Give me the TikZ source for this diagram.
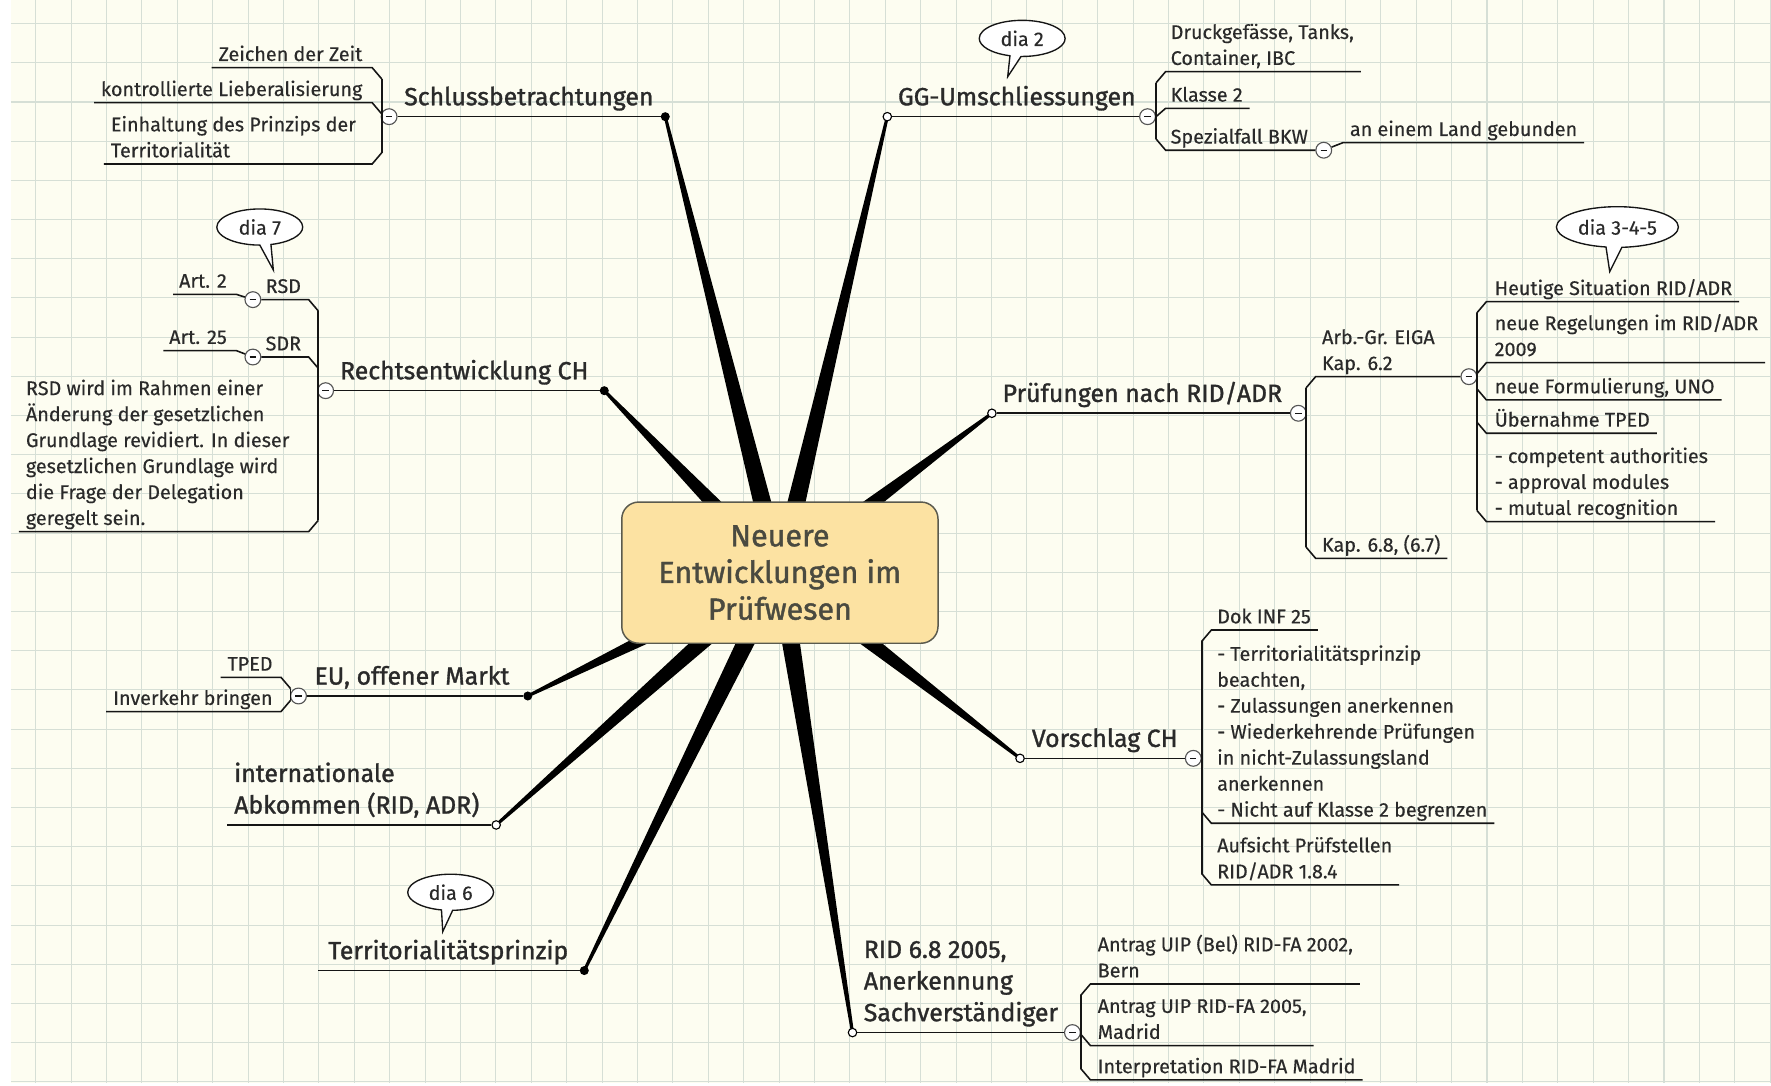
\documentclass[tikz,border=0pt]{standalone}
\usepackage{fontspec}
\setmainfont[FakeBold=0.35]{Fira Sans}
\newfontfamily\heavyfam[FakeBold=1.3]{Fira Sans}
\usetikzlibrary{calc,shapes.callouts}
\pgfdeclarelayer{bg}
\pgfdeclarelayer{spk}
\pgfsetlayers{bg,spk,main}
\definecolor{bgc}{HTML}{FDFDF1}
\definecolor{gridc}{HTML}{D6DFD6}
\definecolor{txtc}{HTML}{2A2A2A}
\definecolor{linec}{HTML}{151515}
\definecolor{boxfill}{HTML}{FCE2A2}
\definecolor{boxline}{HTML}{5A5A4E}
\definecolor{ctrtxt}{HTML}{4A4A40}
\definecolor{btnline}{HTML}{555555}
\newcommand{\fsub}{\fontsize{17.5}{23}\selectfont}
\newcommand{\fmain}{\heavyfam\fontsize{22}{28}\selectfont}
\newcommand{\fctr}{\heavyfam\fontsize{27}{32.5}\selectfont}
% right-side child: name, vertical x, underline y, join y, text x, text
\newcommand{\kidR}[6]{%
  \node[sub, anchor=south west] (#1) at (#5,#3) {#6};
  \coordinate (#1-j) at (#2,#4);
  \coordinate (#1-c) at ({#2+8.5},#3);
  \draw[uline] (#1-j) -- (#1-c) -- ($(#1.east |- #1-c)+(6,0)$);
}
% left-side child: name, vertical x, underline y, join y, anchor, text x, text
\newcommand{\kidL}[7]{%
  \node[sub, anchor=#5] (#1) at (#6,#3) {#7};
  \coordinate (#1-j) at (#2,#4);
  \coordinate (#1-c) at ({#2-8.5},#3);
  \draw[uline] (#1-j) -- (#1-c) -- ($(#1.west |- #1-c)+(-6,0)$);
}
\newcommand{\spoke}[1]{%
  \fill[black] ($(core)!9pt!90:(#1)$) -- ($(#1)!1.3pt!-90:(core)$) -- ($(#1)!1.3pt!90:(core)$) -- ($(core)!9pt!-90:(#1)$) -- cycle;}
\begin{document}
\begin{tikzpicture}[x=1pt,y=-1pt,
  sub/.style={font=\fsub, text=txtc, align=left, inner sep=0pt, execute at end node=\strut, yshift=-1.2pt},
  maint/.style={font=\fmain, text=txtc, align=left, inner sep=0pt, execute at end node=\strut, yshift=1.5pt},
  uline/.style={draw=linec, line width=1.4pt},
  btn/.style={circle, draw=btnline, fill=white, line width=1pt, minimum size=14pt, inner sep=0pt,
    path picture={\draw[linec, line width=1.2pt] ([xshift=-2.8pt]path picture bounding box.center) -- ([xshift=2.8pt]path picture bounding box.center);}},
  dotf/.style={circle, fill=black, minimum size=8pt, inner sep=0pt},
  doth/.style={circle, draw=black, fill=white, line width=1pt, minimum size=7.5pt, inner sep=0pt},
  bubble/.style={ellipse callout, draw=linec, fill=white, line width=1.2pt, inner sep=0pt,
    minimum width=76pt, minimum height=32pt, font=\fsub, text=txtc},
  core/.style={rectangle, rounded corners=15pt, draw=boxline, fill=boxfill, line width=1.3pt,
    minimum width=280pt, minimum height=125pt, align=center, font=\fctr, text=ctrtxt, inner sep=0pt}
]
\useasboundingbox (0,0) rectangle (1568,961);
\begin{pgfonlayer}{bg}
  \fill[white] (0,0) rectangle (1568,961);
  \fill[bgc] (9.7,0) rectangle (1568,959);
  \foreach \i in {0,...,49} \draw[gridc, line width=0.9pt] ({31.6+31.34*\i},0) -- ({31.6+31.34*\i},959);
  \foreach \j in {0,...,27} \draw[gridc, line width=0.9pt] (9.7,{20.9+34.7*\j}) -- (1568,{20.9+34.7*\j});
\end{pgfonlayer}

% central topic
\node[core] (core) at (690.5,507) {Neuere\\Entwicklungen im\\Prüfwesen};

% ---------- Schlussbetrachtungen
\node[dotf] (schD) at (589,103.3) {};
\node[btn] (schB) at (344.5,103.3) {};
\draw[uline] (schB) -- (schD);
\node[maint, anchor=south west] (schT) at (357.7,103.3) {Schlussbetrachtungen};
\kidL{zeit}{338}{59.9}{69.9}{south east}{321}{Zeichen der Zeit}
\kidL{kontr}{338}{90.9}{100.9}{south east}{321}{kontrollierte Lieberalisierung}
\kidL{einh}{338}{145.2}{135.2}{south west}{98}{Einhaltung des Prinzips der\\Territorialität}
\draw[uline] (zeit-j) -- (einh-j);

% ---------- GG-Umschliessungen
\node[doth] (ggD) at (785.6,103.3) {};
\node[btn] (ggB) at (1016,103.3) {};
\draw[uline] (ggD) -- (ggB);
\node[maint, anchor=south west] (ggT) at (794.9,103.3) {GG-Umschliessungen};
\node[bubble, callout absolute pointer={(892.2,67.9)}] (dia2) at (905,34) {dia 2};
\kidR{druck}{1023.5}{63.4}{73.4}{1036.3}{Druckgefässe, Tanks,\\Container, IBC}
\kidR{klasse}{1023.5}{95.9}{103.3}{1036.3}{Klasse 2}
\node[sub, anchor=south west] (spz) at (1036.3,133) {Spezialfall BKW};
\node[btn] (spzB) at (1172,133) {};
\coordinate (spz-j) at (1023.5,123);
\coordinate (spz-c) at (1032,133);
\draw[uline] (spz-j) -- (spz-c) -- (spzB);
\node[sub, anchor=south west] (land) at (1195,126.3) {an einem Land gebunden};
\coordinate (land-c) at (1189,126.3);
\draw[uline] (spzB) -- (land-c) -- ($(land.east |- land-c)+(6,0)$);
\draw[uline] (druck-j) -- (spz-j);
\draw[uline] (ggB) -- (klasse-j);

% ---------- Rechtsentwicklung CH
\node[dotf] (reD) at (535,345.9) {};
\node[btn] (reB) at (288.3,345.9) {};
\draw[uline] (reB) -- (reD);
\node[maint, anchor=south west] (reT) at (300.9,345.9) {Rechtsentwicklung CH};
\node[bubble, callout absolute pointer={(242,239)}] (dia7) at (230,201) {dia 7};
\node[btn] (rsdB) at (223.9,265.3) {};
\node[sub, anchor=south west] (rsd) at (235,265.3) {RSD};
\coordinate (rsd-j) at (281.8,275.3);
\coordinate (rsd-c) at (273.3,265.3);
\draw[uline] (rsd-j) -- (rsd-c) -- (rsdB);
\node[sub, anchor=south east] (art2) at (201,260.6) {Art. 2};
\coordinate (art2-c) at (209.2,260.6);
\draw[uline] (rsdB) -- (art2-c) -- ($(art2.west |- art2-c)+(-5,0)$);
\node[btn] (sdrB) at (223.9,316.1) {};
\node[sub, anchor=south west] (sdr) at (235,316.1) {SDR};
\coordinate (sdr-j) at (281.8,326.1);
\coordinate (sdr-c) at (273.3,316.1);
\draw[uline] (sdr-j) -- (sdr-c) -- (sdrB);
\node[sub, anchor=south east] (art25) at (201,310.4) {Art. 25};
\coordinate (art25-c) at (209.2,310.4);
\draw[uline] (sdrB) -- (art25-c) -- ($(art25.west |- art25-c)+(-5,0)$);
\kidL{rsdw}{281.8}{470.7}{460.7}{south west}{22.8}{RSD wird im Rahmen einer\\Änderung der gesetzlichen\\Grundlage revidiert. In dieser\\gesetzlichen Grundlage wird\\die Frage der Delegation\\geregelt sein.}
\draw[uline] (rsd-j) -- (rsdw-j);

% ---------- Prüfungen nach RID/ADR
\node[doth] (prD) at (878.2,365.9) {};
\node[btn] (prB) at (1149.5,365.9) {};
\draw[uline] (prD) -- (prB);
\node[maint, anchor=south west] (prT) at (887.5,365.9) {Prüfungen nach RID/ADR};
\node[sub, anchor=south west] (arb) at (1170.3,333.5) {Arb.-Gr. EIGA\\Kap. 6.2};
\node[btn] (arbB) at (1300.5,333.5) {};
\coordinate (arb-j) at (1156.3,343.5);
\coordinate (arb-c) at (1164.8,333.5);
\draw[uline] (arb-j) -- (arb-c) -- (arbB);
\kidR{kap68}{1156.3}{494.3}{484.3}{1170.3}{Kap. 6.8, (6.7)}
\draw[uline] (arb-j) -- (kap68-j);
\node[bubble, minimum width=108pt, minimum height=36pt, callout absolute pointer={(1425.2,240.5)}] (dia345) at (1432,201) {dia 3-4-5};
\kidR{heut}{1307.5}{267.1}{277.1}{1323.2}{Heutige Situation RID/ADR}
\kidR{neuR}{1307.5}{321.1}{331.1}{1323.2}{neue Regelungen im RID/ADR\\2009}
\kidR{neuF}{1307.5}{354.1}{344.1}{1323.2}{neue Formulierung, UNO}
\kidR{ueb}{1307.5}{383.6}{373.6}{1323.2}{Übernahme TPED}
\kidR{comp}{1307.5}{461.8}{451.8}{1323.2}{- competent authorities\\- approval modules\\- mutual recognition}
\draw[uline] (heut-j) -- (comp-j);

% ---------- Vorschlag CH
\node[doth] (voD) at (903.1,671.4) {};
\node[btn] (voB) at (1056.5,671.4) {};
\draw[uline] (voD) -- (voB);
\node[maint, anchor=south west] (voT) at (913.4,671.4) {Vorschlag CH};
\kidR{dok}{1064}{557.8}{567.8}{1077.5}{Dok INF 25}
\kidR{terr}{1064}{728.9}{718.9}{1077.5}{- Territorialitätsprinzip\\beachten,\\- Zulassungen anerkennen\\- Wiederkehrende Prüfungen\\in nicht-Zulassungsland\\anerkennen\\- Nicht auf Klasse 2 begrenzen}
\kidR{aufs}{1064}{783.5}{773.5}{1077.5}{Aufsicht Prüfstellen\\RID/ADR 1.8.4}
\draw[uline] (dok-j) -- (aufs-j);

% ---------- RID 6.8 2005
\node[doth] (ridD) at (754.8,914.2) {};
\node[btn] (ridB) at (949.5,914.2) {};
\draw[uline] (ridD) -- (ridB);
\node[maint, anchor=south west] (ridT) at (764.6,914.2) {RID 6.8 2005,\\Anerkennung\\Sachverständiger};
\kidR{ant02}{956.9}{871.2}{881.2}{971.7}{Antrag UIP (Bel) RID-FA 2002,\\Bern}
\kidR{ant05}{956.9}{925.7}{915.7}{971.7}{Antrag UIP RID-FA 2005,\\Madrid}
\kidR{interp}{956.9}{956.1}{946.1}{971.7}{Interpretation RID-FA Madrid}
\draw[uline] (ant02-j) -- (interp-j);

% ---------- Territorialitätsprinzip
\node[dotf] (terD) at (517.3,859.3) {};
\coordinate (terE) at (281.8,859.3);
\draw[uline] (terE) -- (terD);
\node[maint, anchor=south west] (terT) at (290.5,859.3) {Territorialitätsprinzip};
\node[bubble, callout absolute pointer={(392,824.8)}] (dia6) at (399,790) {dia 6};

% ---------- internationale Abkommen
\node[doth] (intD) at (439.3,730.4) {};
\coordinate (intE) at (201.3,730.4);
\draw[uline] (intE) -- (intD);
\node[maint, anchor=south west] (intT) at (207.2,730.4) {internationale\\Abkommen (RID, ADR)};

% ---------- EU, offener Markt
\node[dotf] (euD) at (467.3,616.2) {};
\node[btn] (euB) at (264.3,616.2) {};
\draw[uline] (euB) -- (euD);
\node[maint, anchor=south west] (euT) at (278.3,616.2) {EU, offener Markt};
\kidL{tped}{257.3}{599.7}{609.7}{south east}{241.5}{TPED}
\kidL{inv}{257.3}{630}{620}{south east}{241.5}{Inverkehr bringen}
\draw[uline] (tped-j) -- (inv-j);

% ---------- spokes from the central topic
\begin{pgfonlayer}{spk}
  \foreach \n in {schD,ggD,reD,prD,voD,ridD,terD,intD,euD} {\spoke{\n}}
\end{pgfonlayer}
\end{tikzpicture}
\end{document}
